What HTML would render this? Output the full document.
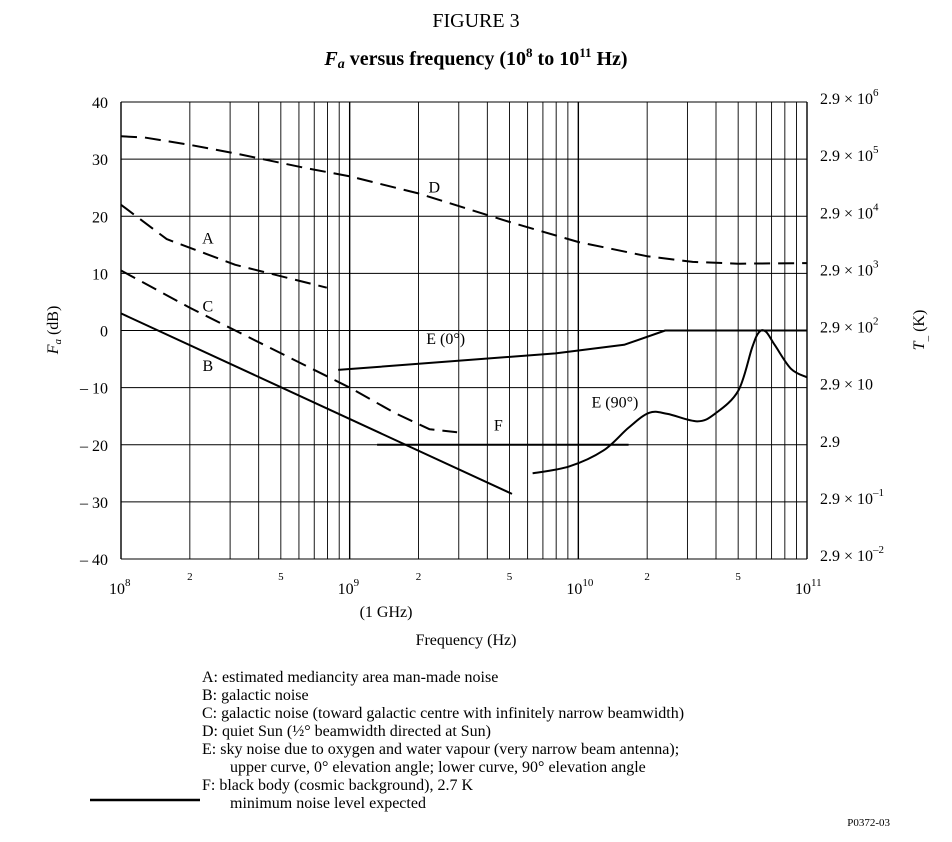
<!DOCTYPE html>
<html><head><meta charset="utf-8"><style>
body{margin:0;background:#fff;font-family:"Liberation Serif",serif;}
svg{display:block}
</style></head><body>
<svg width="952" height="842" viewBox="0 0 952 842" font-family="Liberation Serif, serif">
<text x="476" y="27" font-size="20" text-anchor="middle">FIGURE 3</text>
<text x="476" y="65" font-size="20" font-weight="bold" text-anchor="middle"><tspan font-style="italic">F<tspan font-size="14" dy="3">a</tspan></tspan><tspan dy="-3"> versus frequency (10</tspan><tspan font-size="13" dy="-8">8</tspan><tspan dy="8"> to 10</tspan><tspan font-size="13" dy="-8">11</tspan><tspan dy="8"> Hz)</tspan></text>
<g id="grid"></g>
<g id="series"></g>
<g id="labels" font-size="16"></g>
<text x="466" y="645" font-size="16" text-anchor="middle">Frequency (Hz)</text>
<text transform="translate(58,330) rotate(-90)" font-size="16" text-anchor="middle"><tspan font-style="italic">F<tspan font-size="11" dy="3">a</tspan></tspan><tspan dy="-3"> (dB)</tspan></text>
<text transform="translate(924,330) rotate(-90)" font-size="16" text-anchor="middle"><tspan font-style="italic">T</tspan><tspan font-size="11" dy="3">_</tspan><tspan dy="-3"> (K)</tspan></text>
<text x="386" y="617" font-size="16" text-anchor="middle">(1 GHz)</text>
<g font-size="16">
<text x="202" y="682">A:  estimated mediancity area man-made noise</text>
<text x="202" y="700">B:  galactic noise</text>
<text x="202" y="718">C:  galactic noise (toward galactic centre with infinitely narrow beamwidth)</text>
<text x="202" y="736">D:  quiet Sun (½° beamwidth directed at Sun)</text>
<text x="202" y="754">E:  sky noise due to oxygen and water vapour (very narrow beam antenna);</text>
<text x="230" y="772">upper curve, 0° elevation angle; lower curve, 90° elevation angle</text>
<text x="202" y="790">F:  black body (cosmic background), 2.7 K</text>
<line x1="90" y1="800" x2="200" y2="800" stroke="#000" stroke-width="2.5"/>
<text x="230" y="808">minimum noise level expected</text>
</g>
<text x="890" y="826" font-size="11" text-anchor="end">P0372-03</text>
</svg>
<script>
const yTicks=[40,30,20,10,0,-10,-20,-30,-40];
const yTickLabels=["40","30","20","10","0","– 10","– 20","– 30","– 40"];
const rightExp=["6","5","4","3","2","","","–1","–2"];
const curveA=[[8.0,22],[8.2,16],[8.5,11.5],[8.9,7.5]];
const curveB=[[8.0,3],[9.71,-28.6]];
const curveC=[[8.0,10.5],[8.3,4],[8.5,0],[9.0,-10],[9.2,-14.5],[9.35,-17.3],[9.47,-17.8]];
const curveD=[[8.0,34],[8.1,33.8],[8.3,32.5],[8.5,31],[8.8,28.5],[9.0,27],[9.3,24],[9.5,21.5],[9.7,19],[10.0,15.5],[10.3,13],[10.5,12],[10.7,11.7],[11.0,11.8]];
const curveE0=[[8.95,-6.9],[9.9,-4],[10.2,-2.5],[10.38,0],[11.0,0]];
const curveE90=[[9.8,-25],[9.96,-23.8],[10.11,-21],[10.22,-17],[10.31,-14.4],[10.39,-14.6],[10.52,-15.9],[10.6,-14.5],[10.7,-10.5],[10.76,-3],[10.79,-0.3],[10.82,-0.2],[10.86,-2.6],[10.93,-6.7],[11.0,-8.2]];
const curveF=[[9.12,-20],[10.22,-20]];
const X0=121,X1=807,Y0=102,Y1=559;
const xs=l=>X0+(l-8)/3*(X1-X0);
const ys=v=>Y0+(40-v)/80*(Y1-Y0);
const NS="http://www.w3.org/2000/svg";
function mk(tag,attrs,parent){const e=document.createElementNS(NS,tag);for(const k in attrs)e.setAttribute(k,attrs[k]);parent.appendChild(e);return e;}
const grid=document.getElementById('grid');
for(let d=8;d<11;d++)for(let m=1;m<=10;m++){
  if(m===1&&d>8)continue;
  const x=xs(d+Math.log10(m));
  const l=mk('line',{x1:x,x2:x,y1:Y0,y2:Y1,stroke:'#000','stroke-width':(m===1||m===10)?1.4:0.9},grid);
  
  
}
yTicks.forEach(v=>{const l=mk('line',{x1:X0,x2:X1,y1:ys(v),y2:ys(v),stroke:'#000','stroke-width':1},grid);
  
  });
const lab=document.getElementById('labels');
yTicks.forEach((v,i)=>{const t=mk('text',{x:108,y:ys(v)+6,'text-anchor':'end'},lab);t.textContent=yTickLabels[i];
  
  
  const r=mk('text',{x:820,y:ys(v)+2},lab);
  
  
  r.innerHTML=rightExp[i]?'2.9 × 10<tspan font-size="11" dy="-8">'+rightExp[i]+'</tspan>':(i===5?'2.9 × 10':'2.9');});
[[8,'10','8'],[9,'10','9'],[10,'10','10'],[11,'10','11']].forEach(a=>{const t=mk('text',{x:xs(a[0])-12,y:594},lab);t.innerHTML=a[1]+'<tspan font-size="11" dy="-8">'+a[2]+'</tspan>';
  
  });
for(let d=8;d<11;d++)[2,5].forEach(m=>{const t=mk('text',{x:xs(d+Math.log10(m)),y:580,'text-anchor':'middle','font-size':11},lab);t.textContent=m;
  
  });
const ser=document.getElementById('series');
function path(pts,dash,name){const d=pts.map((p,i)=>(i?'L':'M')+xs(p[0]).toFixed(1)+','+ys(p[1]).toFixed(1)).join(' ');
  const e=mk('path',{d:d,fill:'none',stroke:'#000','stroke-width':2,'stroke-dasharray':dash||'none','stroke-linejoin':'round'},ser);
  
  }
function smooth(pts,name){let d='M'+xs(pts[0][0])+','+ys(pts[0][1]);
  for(let i=0;i<pts.length-1;i++){const p0=pts[Math.max(0,i-1)],p1=pts[i],p2=pts[i+1],p3=pts[Math.min(pts.length-1,i+2)];
   const c1=[xs(p1[0])+(xs(p2[0])-xs(p0[0]))/6,ys(p1[1])+(ys(p2[1])-ys(p0[1]))/6];
   const c2=[xs(p2[0])-(xs(p3[0])-xs(p1[0]))/6,ys(p2[1])-(ys(p3[1])-ys(p1[1]))/6];
   d+=' C'+c1.join(',')+' '+c2.join(',')+' '+xs(p2[0])+','+ys(p2[1]);}
  const e=mk('path',{d:d,fill:'none',stroke:'#000','stroke-width':2},ser);
  
  }
path(curveD,'16,8','curve-d');
path(curveA,'16,8','curve-a');
path(curveC,'16,8','curve-c');
path(curveB,null,'curve-b');
path(curveE0,null,'curve-e0');
path(curveF,null,'curve-f');
smooth(curveE90,'curve-e90');
[['D',9.37,24.2],['A',8.38,15.2],['C',8.38,3.3],['B',8.38,-7.1],['E (0°)',9.42,-2.4],['E (90°)',10.16,-13.5],['F',9.65,-17.5]].forEach(a=>{
  const t=mk('text',{x:xs(a[1]),y:ys(a[2]),'text-anchor':'middle','font-size':16},ser);t.textContent=a[0];
  
  });
</script>
</body></html>
